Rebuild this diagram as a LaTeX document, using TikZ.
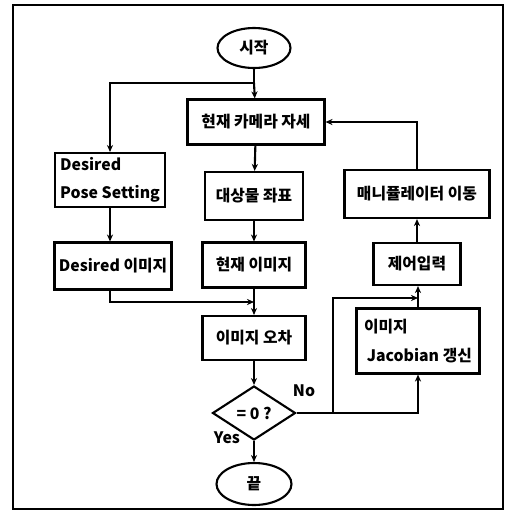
\documentclass[tikz,border=0pt]{standalone}
\usepackage{fontspec}
\setmainfont{Noto Sans CJK KR}
\usepackage{tikz}
\usetikzlibrary{positioning, arrows.meta, shapes.geometric}

\begin{document}
\begin{tikzpicture}[
        x=0.02cm, y=-0.02cm,
        font=\fontsize{9}{11}\selectfont\bfseries,
        line width=1.2pt,
        b/.style={rectangle, draw, inner sep=2pt, align=center, minimum height=0.9cm},
        term/.style={ellipse, draw, inner sep=0pt, minimum width=1.46cm, minimum height=0.8cm},
        arr/.style={-{Stealth[length=4pt, width=3.5pt]}}
    ]
    \useasboundingbox (0,0) rectangle (515,512);
    \draw[line width=1pt] (13,5) rectangle (503,509);

    \node[term] (start) at (254,48) {시작};
    \node[b, minimum width=2.74cm] (cam) at (256,122) {현재 카메라 자세};
    \node[b, align=left, minimum width=2.2cm, minimum height=1.08cm] (desp) at (110,180) {Desired\\[5pt]Pose Setting};
    \node[b, minimum width=1.96cm, minimum height=0.96cm] (obj) at (254,196) {대상물 좌표};
    \node[b, minimum width=2.9cm, minimum height=0.96cm] (mani) at (417,194) {매니퓰레이터 이동};
    \node[b, minimum width=2.34cm, minimum height=0.94cm] (desimg) at (113,266) {Desired 이미지};
    \node[b, minimum width=2.06cm] (curimg) at (254,265) {현재 이미지};
    \node[b, minimum width=1.74cm, minimum height=0.84cm] (ctrl) at (417,264) {제어입력};
    \node[b, minimum width=2.06cm, minimum height=0.88cm] (err) at (254,338) {이미지 오차};
    \node[b, align=left, minimum width=2.46cm, minimum height=1.3cm] (jac) at (418,341) {이미지\\[5pt]\,Jacobian 갱신};
    \node[diamond, draw, inner sep=0pt, minimum width=1.66cm, minimum height=1.08cm] (dec) at (254,413) {= 0 ?};
    \node[term, minimum width=1.5cm, minimum height=0.84cm] (end) at (254,484) {끝};

    \coordinate (split) at (254,83);
    \coordinate (mrg) at (254,302);
    \coordinate (byp) at (333,413);
    \coordinate (mrg2) at (418,298);

    \draw (start) -- (split);
    \draw[arr] (split) -- (cam);
    \draw[arr] (split) -| (desp);
    \draw[arr] (mani.north) |- (cam.east);
    \draw[arr] (desp) -- (desimg.north -| desp);
    \draw[arr] (cam) -- (obj);
    \draw[arr] (obj) -- (curimg);
    \draw[arr] (desimg.south -| desp) |- (mrg);
    \draw[arr] (curimg) -- (err);
    \draw[arr] (err) -- (dec);
    \draw[arr] (dec) -- (end);
    \draw[arr] (dec.east) -| (jac.south);
    \draw[arr] (byp) |- (mrg2);
    \draw[arr] (jac) -- (jac.north |- ctrl.south);
    \draw[arr] (ctrl) -- (ctrl.north |- mani.south);

    \node (yes) at (227,438) {Yes};
    \node (no) at (304,391) {No};
\end{tikzpicture}
\end{document}
